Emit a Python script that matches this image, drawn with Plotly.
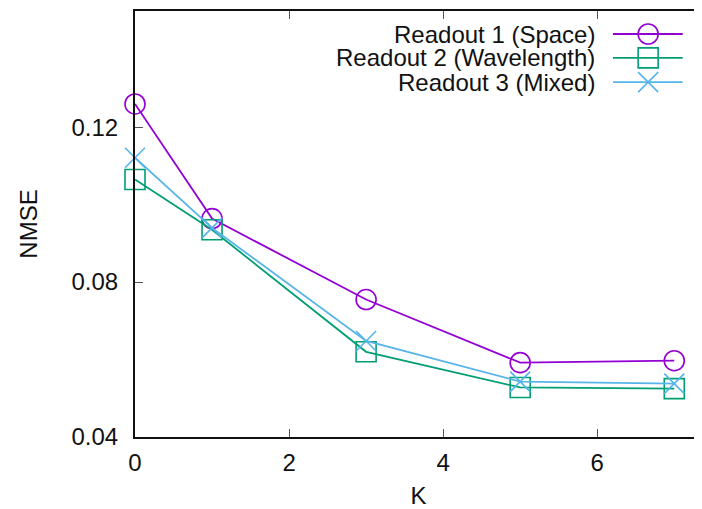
import plotly.graph_objects as go

# ---- data ----
k_values = [0, 1, 3, 5, 7]
series_names = ["Readout 1 (Space)", "Readout 2 (Wavelength)", "Readout 3 (Mixed)"]
nmse_space = [0.1260, 0.0964, 0.0755, 0.0592, 0.0597]
nmse_wavelength = [0.1065, 0.0935, 0.0620, 0.0528, 0.0525]
nmse_mixed = [0.1121, 0.0940, 0.0648, 0.0543, 0.0538]
x_ticks = [0, 2, 4, 6]
y_ticks = [0.04, 0.08, 0.12]

series_values = [nmse_space, nmse_wavelength, nmse_mixed]
colors = ["#9400d3", "#009e73", "#56b4e9"]
symbols = ["circle-open", "square-open", "x-thin-open"]

FONT = "Liberation Sans, Arial, Helvetica, sans-serif"

fig = go.Figure()
for name, vals, col, sym in zip(series_names, series_values, colors, symbols):
    fig.add_trace(go.Scatter(
        x=k_values, y=vals, name=name, mode="lines+markers",
        line=dict(color=col, width=1.8),
        marker=dict(symbol=sym, size=20, color=col, line=dict(color=col, width=1.6)),
        showlegend=False, cliponaxis=False,
    ))

# ---- custom legend (text right-aligned, sample to the right) ----
row_y = [0.946, 0.890, 0.833]
text_x = 0.815
line_x0, line_x1, mark_x = 0.843, 0.966, 0.905
for name, col, sym, ry in zip(series_names, colors, symbols, row_y):
    fig.add_annotation(xref="paper", yref="paper", x=text_x, y=ry, text=name,
                       showarrow=False, xanchor="right", yanchor="middle",
                       font=dict(family=FONT, size=24, color="#111"))
    fig.add_shape(type="line", xref="paper", yref="paper", x0=line_x0, x1=line_x1,
                  y0=ry, y1=ry, line=dict(color=col, width=1.8))
    fig.add_trace(go.Scatter(
        x=[mark_x], y=[ry], xaxis="x2", yaxis="y2", mode="markers",
        marker=dict(symbol=sym, size=20, color=col, line=dict(color=col, width=1.6)),
        showlegend=False, hoverinfo="skip", cliponaxis=False,
    ))

axis_font = dict(family=FONT, size=24, color="#111")
fig.update_layout(
    width=694, height=501,
    margin=dict(l=127, r=0, t=3, b=72),
    paper_bgcolor="white", plot_bgcolor="white",
    font=dict(family=FONT, size=24, color="#111"),
    xaxis=dict(range=[0, 7.36], tickvals=x_ticks, ticktext=[str(v) for v in x_ticks],
               showgrid=False, zeroline=False, showline=True, linecolor="#111", linewidth=2,
               mirror="ticks", ticks="inside", ticklen=8, tickwidth=1, tickcolor="#555",
               tickfont=axis_font, ticklabelstandoff=3, automargin=False,
               title=dict(text="K", font=axis_font, standoff=14)),
    yaxis=dict(range=[0.04, 0.15], tickvals=y_ticks, tickformat=".2f",
               showgrid=False, zeroline=False, showline=True, linecolor="#111", linewidth=2,
               ticks="inside", ticklen=8, tickwidth=1, tickcolor="#555",
               tickfont=axis_font, ticklabelstandoff=10, automargin=False,
               title=dict(text="NMSE", font=axis_font, standoff=27)),
    xaxis2=dict(overlaying="x", range=[0, 1], visible=False, fixedrange=True),
    yaxis2=dict(overlaying="y", range=[0, 1], visible=False, fixedrange=True),
)

fig.write_html("out.html")
